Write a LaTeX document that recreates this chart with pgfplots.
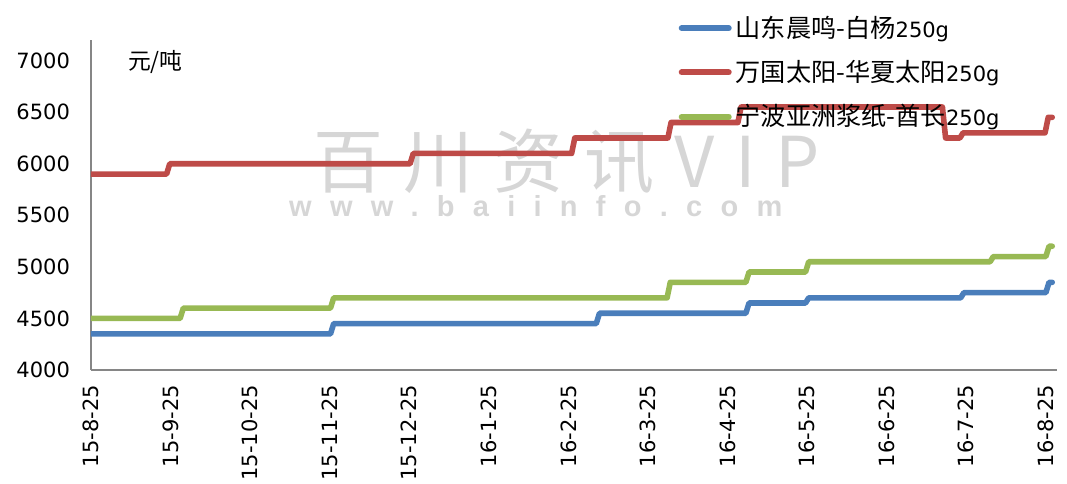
\documentclass[border=0pt]{standalone}
\usepackage{fontspec}
\setmainfont{DejaVu Sans}
\newfontfamily\cjk[Scale=1.2]{Noto Sans CJK SC}
\newfontfamily\wmcjk[LetterSpace=29]{Noto Sans CJK SC}
\newfontfamily\wmlat[LetterSpace=63]{Liberation Sans}
\usepackage{pgfplots}
\pgfplotsset{compat=1.18}
\definecolor{cblue}{HTML}{4A7EBB}
\definecolor{cred}{HTML}{BE4B48}
\definecolor{cgreen}{HTML}{98B954}
\definecolor{axgray}{HTML}{868686}
\definecolor{wmgray}{HTML}{D6D6D6}

\begin{document}
\begin{tikzpicture}
\useasboundingbox (-45.5pt,-56.5pt) rectangle (488pt,185pt);
\begin{axis}[
  at={(0,0)}, anchor=south west,
  scale only axis, width=483pt, height=165pt,
  xmin=0, xmax=12.14, ymin=4000, ymax=7200,
  axis x line*=bottom, axis y line*=left,
  axis line style={axgray, line width=0.8pt},
  xtick={0,...,12},
  xticklabels={15-8-25,15-9-25,15-10-25,15-11-25,15-12-25,16-1-25,16-2-25,16-3-25,16-4-25,16-5-25,16-6-25,16-7-25,16-8-25},
  ytick={4000,4500,...,7000},
  major tick length=0pt,
  tick label style={font=\fontsize{10.5}{12}\selectfont, black},
  xticklabel style={rotate=90, anchor=east, xshift=-4pt},
  yticklabel style={xshift=-7pt},
  /pgf/number format/assume math mode=true,
  /pgf/number format/1000 sep={},
  legend style={at={(0.608,1.086)}, anchor=north west, draw=none, fill=none,
    font=\fontsize{10.5}{12}\selectfont, row sep=6pt, inner sep=0pt},
  legend cell align=left,
  legend image code/.code={\draw[#1, line width=3pt, line cap=round] (1.5pt,0pt) -- (25pt,0pt);},
  every axis plot/.append style={line width=2.8pt, line join=round, line cap=round},
]
\node[text=wmgray, font=\wmcjk\fontsize{35}{40}\selectfont] at (axis cs:5.98,6020) {百川资讯VIP};
\node[text=wmgray, font=\wmlat\bfseries\fontsize{14.5}{16}\selectfont] at (axis cs:5.59,5590) {www.baiinfo.com};
\node[anchor=west, font=\cjk\fontsize{9.5}{11}\selectfont] at (rel axis cs:0.031,0.933) {元/吨};

\addplot[cblue] coordinates {
  (0,4350) (3.01,4350) (3.05,4450) (6.35,4450) (6.39,4550) (8.23,4550) (8.27,4650)
  (8.98,4650) (9.02,4700) (10.93,4700) (10.97,4750) (12.00,4750) (12.04,4850) (12.08,4850)};
\addlegendentry{{\cjk 山东晨鸣-白杨}250g}
\addplot[cred] coordinates {
  (0,5900) (0.95,5900) (0.99,6000) (4.01,6000) (4.05,6100) (6.04,6100) (6.08,6250)
  (7.25,6250) (7.29,6400) (8.13,6400) (8.17,6550) (10.70,6550) (10.74,6250)
  (10.92,6250) (10.96,6300) (11.99,6300) (12.03,6450) (12.08,6450)};
\addlegendentry{{\cjk 万国太阳-华夏太阳}250g}
\addplot[cgreen] coordinates {
  (0,4500) (1.12,4500) (1.16,4600) (3.01,4600) (3.05,4700) (7.24,4700) (7.28,4850)
  (8.23,4850) (8.27,4950) (8.98,4950) (9.02,5050) (11.30,5050) (11.34,5100)
  (12.00,5100) (12.04,5200) (12.08,5200)};
\addlegendentry{{\cjk 宁波亚洲浆纸-酋长}250g}
\end{axis}
\end{tikzpicture}
\end{document}
